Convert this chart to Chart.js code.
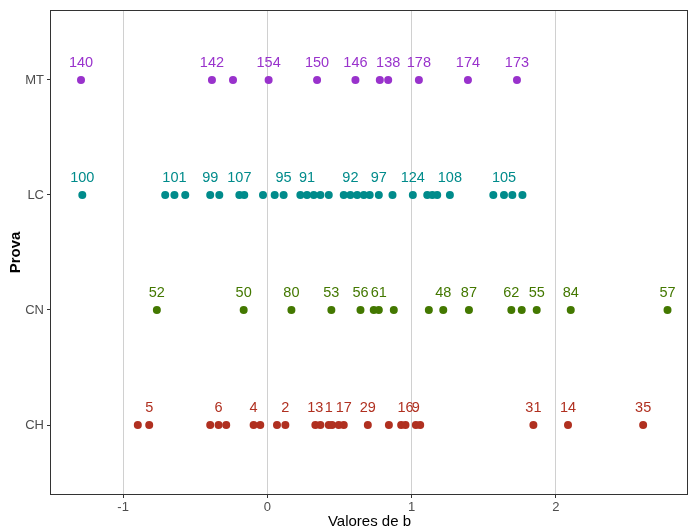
<!DOCTYPE html>
<html>
<head>
<meta charset="utf-8">
<script src="https://cdn.jsdelivr.net/npm/chart.js@4"></script>
<style>
    html, body { margin: 0; padding: 0; background: #ffffff; }
    #chart { display: block; }
</style>
</head>
<body>
<canvas id="chart" width="689" height="531"></canvas>
<script>
// Categories on the y axis (bottom to top)
const categories = ['CH', 'CN', 'LC', 'MT'];

// X ticks
const xTicks = [-1, 0, 1, 2];

// Values de b per prova, with the labels shown above some points
const chValues = [-0.898, -0.819, -0.396, -0.338, -0.285, -0.095, -0.049, 0.067, 0.125, 0.333, 0.368, 0.426,
    0.449, 0.495, 0.530, 0.697, 0.843, 0.928, 0.958, 1.030, 1.060, 1.845, 2.085, 2.606];
const chLabels = ['', '5', '', '6', '', '4', '', '', '2', '13', '', '1',
    '', '', '17', '29', '', '', '16', '9', '', '31', '14', '35'];

const cnValues = [-0.766, -0.164, 0.167, 0.444, 0.646, 0.738, 0.773, 0.877, 1.120, 1.220, 1.398, 1.692,
    1.764, 1.868, 2.104, 2.775];
const cnLabels = ['52', '50', '80', '53', '56', '', '61', '', '', '48', '87', '62',
    '', '55', '84', '57'];

const lcValues = [-1.283, -0.708, -0.644, -0.569, -0.396, -0.333, -0.194, -0.160, -0.030, 0.051, 0.113, 0.229,
    0.275, 0.322, 0.368, 0.426, 0.530, 0.576, 0.623, 0.669, 0.710, 0.773, 0.868, 1.009,
    1.109, 1.144, 1.178, 1.266, 1.567, 1.641, 1.699, 1.769];
const lcLabels = ['100', '', '101', '', '99', '', '107', '', '', '', '95', '',
    '91', '', '', '', '', '92', '', '', '', '97', '', '124',
    '', '', '', '108', '', '105', '', ''];

const mtValues = [-1.292, -0.384, -0.238, 0.009, 0.345, 0.611, 0.780, 0.838, 1.051, 1.391, 1.731];
const mtLabels = ['140', '142', '', '154', '150', '146', '', '138', '178', '174', '173'];

// Colors per prova
const colors = ['#B03020', '#437800', '#008B8B', '#9932CC'];

const FONT = "'Liberation Sans', Arial, sans-serif";

// Build a scatter dataset for one prova
function makeDataset(values, labels, index) {
    return {
        label: categories[index],
        data: values.map(v => ({ x: v, y: index + 1 })),
        pointLabels: labels,
        backgroundColor: colors[index],
        borderColor: colors[index],
        pointRadius: 4,
        pointHoverRadius: 4,
        borderWidth: 0
    };
}

// Draw the text labels above points
const pointLabelPlugin = {
    id: 'pointLabels',
    afterDatasetsDraw(chart) {
        const ctx = chart.ctx;
        ctx.save();
        ctx.font = '14.5px ' + FONT;
        ctx.textAlign = 'center';
        ctx.textBaseline = 'middle';
        chart.data.datasets.forEach((ds, i) => {
            const meta = chart.getDatasetMeta(i);
            ctx.fillStyle = ds.backgroundColor;
            meta.data.forEach((pt, j) => {
                const txt = ds.pointLabels[j];
                if (txt) ctx.fillText(txt, pt.x, pt.y - 17);
            });
        });
        ctx.restore();
    }
};

// Panel border round the plot area
const panelBorderPlugin = {
    id: 'panelBorder',
    afterDraw(chart) {
        const { ctx, chartArea } = chart;
        ctx.save();
        ctx.strokeStyle = '#333333';
        ctx.lineWidth = 1;
        ctx.strokeRect(chartArea.left - 0.5, chartArea.top - 0.5,
            chartArea.right - chartArea.left, chartArea.bottom - chartArea.top + 1);
        ctx.restore();
    }
};

new Chart(document.getElementById('chart'), {
    type: 'scatter',
    data: {
        datasets: [
            makeDataset(chValues, chLabels, 0),
            makeDataset(cnValues, cnLabels, 1),
            makeDataset(lcValues, lcLabels, 2),
            makeDataset(mtValues, mtLabels, 3)
        ]
    },
    options: {
        responsive: false,
        animation: false,
        devicePixelRatio: 1,
        layout: {
            autoPadding: false,
            padding: { left: 0, right: 1, top: 11, bottom: 0 }
        },
        plugins: {
            legend: { display: false },
            tooltip: { enabled: false }
        },
        scales: {
            x: {
                type: 'linear',
                min: -1.5,
                max: 2.917,
                afterBuildTicks: scale => { scale.ticks = xTicks.map(v => ({ value: v })); },
                afterFit: scale => {
                    scale.height = 37;
                    scale.paddingLeft = 0;
                    scale.paddingRight = 0;
                },
                grid: {
                    color: '#D0D0D0',
                    lineWidth: 1,
                    tickColor: '#333333',
                    tickLength: 4
                },
                border: { display: false },
                ticks: {
                    color: '#4D4D4D',
                    font: { family: FONT, size: 13 },
                    padding: 2,
                    maxRotation: 0
                },
                title: {
                    display: true,
                    text: 'Valores de b',
                    color: '#000000',
                    font: { family: FONT, size: 15 },
                    padding: { top: 0, bottom: 0 }
                }
            },
            y: {
                type: 'linear',
                min: 0.4,
                max: 4.6,
                afterBuildTicks: scale => { scale.ticks = categories.map((c, i) => ({ value: i + 1 })); },
                afterFit: scale => { scale.width = 51; },
                grid: {
                    drawOnChartArea: false,
                    tickColor: '#333333',
                    tickLength: 4
                },
                border: { display: false },
                ticks: {
                    color: '#4D4D4D',
                    font: { family: FONT, size: 13 },
                    padding: 3,
                    callback: value => categories[Math.round(value) - 1]
                },
                title: {
                    display: true,
                    text: 'Prova',
                    color: '#000000',
                    font: { family: FONT, size: 15, weight: 'bold' },
                    padding: { top: 7, bottom: 4 }
                }
            }
        }
    },
    plugins: [pointLabelPlugin, panelBorderPlugin]
});
</script>
</body>
</html>
